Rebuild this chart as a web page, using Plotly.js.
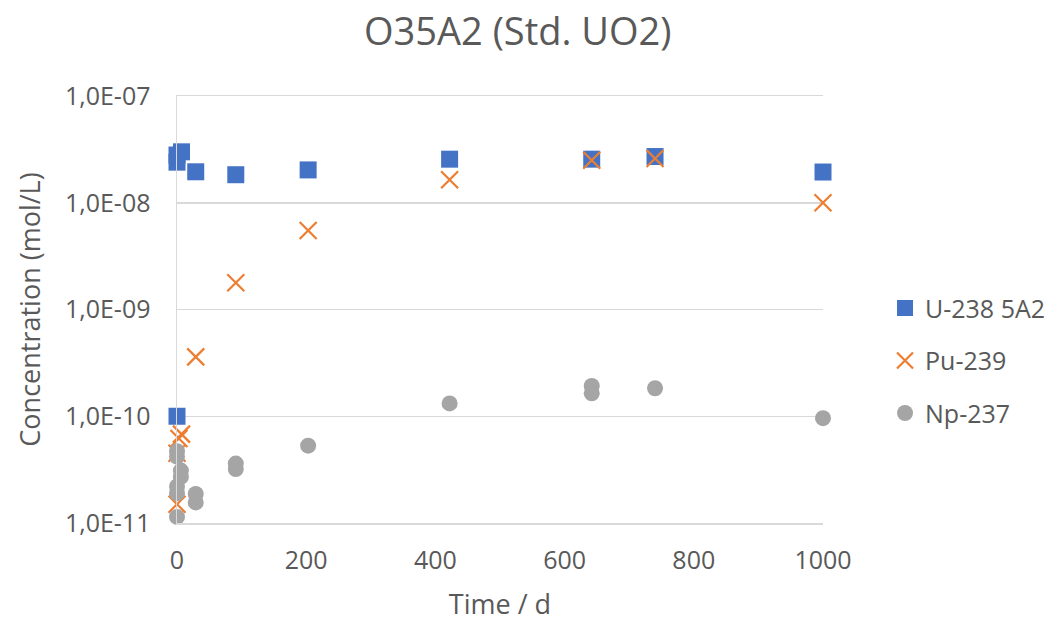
<!DOCTYPE html>
<html>
<head>
<meta charset="utf-8">
<script src="https://cdn.plot.ly/plotly-3.0.1.min.js"></script>
<style>html,body{margin:0;padding:0;background:#fff;}#chart{width:1046px;height:622px;}</style>
</head>
<body>
<div id="chart"></div>
<script>
// ---- data ----
const uDays = [0, 0, 7, 0, 29, 91, 203, 422, 642, 740, 1000];
const uConc = [2.4e-8, 2.8e-8, 3.0e-8, 1.0e-10, 1.95e-8, 1.83e-8, 2.03e-8, 2.56e-8, 2.56e-8, 2.71e-8, 1.94e-8];

const puDays = [0, 0, 3, 7, 29, 91, 203, 422, 642, 740, 1000];
const puConc = [4.5e-11, 1.5e-11, 6.2e-11, 6.8e-11, 3.6e-10, 1.78e-9, 5.5e-9, 1.64e-8, 2.5e-8, 2.6e-8, 1.0e-8];

const npDays = [0, 0, 6, 6, 0, 0, 29, 29, 0, 91, 91, 203, 422, 642, 642, 740, 1000];
const npConc = [4.7e-11, 4.2e-11, 3.1e-11, 2.7e-11, 2.2e-11, 1.9e-11, 1.87e-11, 1.56e-11, 1.14e-11, 3.6e-11, 3.2e-11, 5.3e-11, 1.32e-10, 1.92e-10, 1.64e-10, 1.83e-10, 9.6e-11];

const seriesNames = ['U-238 5A2', 'Pu-239', 'Np-237'];
const yTickVals = [1e-11, 1e-10, 1e-9, 1e-8, 1e-7];
const yTickText = ['1,0E-11', '1,0E-10', '1,0E-09', '1,0E-08', '1,0E-07'];
const xTickVals = [0, 200, 400, 600, 800, 1000];
const titleText = 'O35A2 (Std. UO2)';
const xTitle = 'Time / d';
const yTitle = 'Concentration (mol/L)';

// ---- chart ----
const FONT = '"Open Sans", "DejaVu Sans", sans-serif';
const TXT = '#595959';
const GRID = '#d9d9d9';

const traces = [
  {x: uDays, y: uConc, name: seriesNames[0], type: 'scatter', mode: 'markers', cliponaxis: false,
   legendgroup: 'a',
   marker: {symbol: 'square', size: 17, color: '#4472C4'}},
  {x: puDays, y: puConc, name: seriesNames[1], type: 'scatter', mode: 'markers', cliponaxis: false,
   legendgroup: 'b',
   marker: {symbol: 'x-thin', size: 17, color: '#ED7D31', line: {color: '#ED7D31', width: 2.2}}},
  {x: npDays, y: npConc, name: seriesNames[2], type: 'scatter', mode: 'markers', cliponaxis: false,
   legendgroup: 'c',
   marker: {symbol: 'circle', size: 16, color: '#A5A5A5'}}
];

const layout = {
  width: 1046, height: 622,
  paper_bgcolor: '#ffffff', plot_bgcolor: '#ffffff',
  margin: {l: 177, r: 223, t: 96, b: 99, pad: 0, autoexpand: false},
  font: {family: FONT, color: TXT, size: 25},
  title: {text: titleText, font: {family: FONT, size: 38, color: TXT},
          x: 0.495, xref: 'container', xanchor: 'center',
          y: 1 - 32/622, yref: 'container', yanchor: 'middle'},
  xaxis: {
    range: [0, 1000], tickvals: xTickVals, showgrid: false, zeroline: false,
    showline: true, mirror: true, linecolor: GRID, linewidth: 1.5,
    ticks: 'outside', ticklen: 14, tickcolor: 'rgba(0,0,0,0)',
    tickfont: {family: FONT, size: 25, color: TXT},
    title: {text: xTitle, font: {family: FONT, size: 27, color: TXT}, standoff: 22}
  },
  yaxis: {
    type: 'log', range: [-11, -7], tickvals: yTickVals, ticktext: yTickText,
    showgrid: true, gridcolor: GRID, gridwidth: 1.5, zeroline: false,
    showline: true, linecolor: GRID, linewidth: 1.5,
    ticks: 'outside', ticklen: 20, tickcolor: 'rgba(0,0,0,0)',
    tickfont: {family: FONT, size: 25, color: TXT},
    title: {text: yTitle, font: {family: FONT, size: 27, color: TXT}, standoff: 16}
  },
  showlegend: true,
  legend: {x: 1.096, xanchor: 'left', y: 0.38, yanchor: 'middle',
           traceorder: 'grouped', tracegroupgap: 17,
           font: {family: FONT, size: 25, color: TXT},
           bgcolor: 'rgba(0,0,0,0)', itemwidth: 30}
};

Plotly.newPlot('chart', traces, layout, {displayModeBar: false, staticPlot: true});
</script>
</body>
</html>
